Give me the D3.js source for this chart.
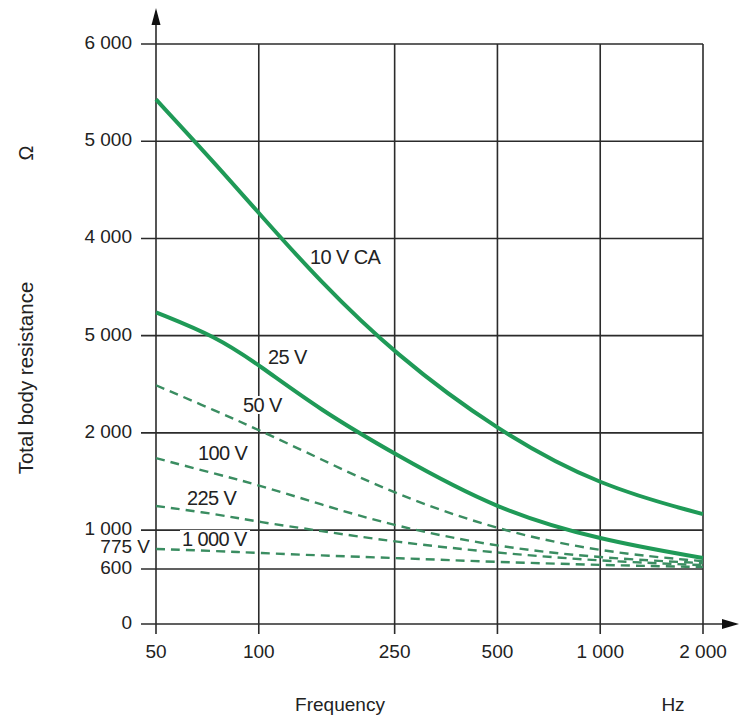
<!DOCTYPE html>
<html>
<head>
<meta charset="utf-8">
<script src="https://cdn.jsdelivr.net/npm/d3@7"></script>
<style>
  body { margin: 0; background: #fff; }
  text { font-family: "Liberation Sans", Arial, sans-serif; fill: #222; }
</style>
</head>
<body>
<svg id="chart" width="739" height="717"></svg>
<script>
// frequency axis (Hz, log)
var freqTicks = [50, 100, 250, 500, 1000, 2000]
var freqTickLabels = ["50", "100", "250", "500", "1 000", "2 000"]

// resistance axis (ohm) - labels as printed on the original
var resTicks = [0, 600, 1000, 2000, 3000, 4000, 5000, 6000]
var resTickLabels = ["0", "600", "1 000", "2 000", "5 000", "4 000", "5 000", "6 000"]

// curve samples
var freqs = [50, 75, 100, 150, 250, 500, 1000, 2000]
var v10 = [5430, 4760, 4260, 3570, 2810, 2020, 1450, 1165]
var v25 = [3240, 2990, 2700, 2245, 1780, 1205, 898, 713]
var v50 = [2490, 2225, 2030, 1740, 1370, 1000, 775, 680]
var v100 = [1740, 1577, 1464, 1270, 1040, 826, 713, 660]
var v225 = [1248, 1166, 1083, 995, 878, 765, 682, 640]
var v775 = [806, 785, 765, 740, 713, 672, 641, 620]

var seriesNames = ["10 V CA", "25 V", "50 V", "100 V", "225 V", "775 V"]
var seriesValues = [v10, v25, v50, v100, v225, v775]
var seriesDashed = [false, false, true, true, true, true]

var svg = d3.select("#chart")

var x = d3.scaleLog().domain([50, 2000]).range([156, 703])
// axis is broken below 600
var y = d3.scaleLinear().domain([0, 600, 6000]).range([624, 569, 44])

var gridColor = "#2b2b2b"

// horizontal grid
svg.selectAll(".hgrid")
   .data(resTicks.filter(function(d) { return d > 0 }))
   .enter().append("line")
   .attr("x1", 141).attr("x2", x(2000))
   .attr("y1", function(d) { return y(d) })
   .attr("y2", function(d) { return y(d) })
   .attr("stroke", gridColor).attr("stroke-width", 1.6)

// vertical grid (with tick below axis)
svg.selectAll(".vgrid")
   .data(freqTicks.slice(1))
   .enter().append("line")
   .attr("x1", function(d) { return x(d) })
   .attr("x2", function(d) { return x(d) })
   .attr("y1", y(6000)).attr("y2", y(0) + 10)
   .attr("stroke", gridColor).attr("stroke-width", 1.6)

// axes with arrows
svg.append("line")
   .attr("x1", x(50)).attr("x2", x(50))
   .attr("y1", y(0) + 10).attr("y2", 20)
   .attr("stroke", gridColor).attr("stroke-width", 1.6)
svg.append("path")
   .attr("d", "M" + x(50) + ",8 L" + (x(50) - 4.5) + ",25 L" + (x(50) + 4.5) + ",25 Z")
   .attr("fill", "#111")
svg.append("line")
   .attr("x1", 141).attr("x2", 728)
   .attr("y1", y(0)).attr("y2", y(0))
   .attr("stroke", gridColor).attr("stroke-width", 1.6)
svg.append("path")
   .attr("d", "M739," + y(0) + " L722," + (y(0) - 5) + " L722," + (y(0) + 5) + " Z")
   .attr("fill", "#111")

// tick labels
svg.selectAll(".ylab")
   .data(resTicks)
   .enter().append("text")
   .attr("x", 132)
   .attr("y", function(d) { return y(d) + 5 })
   .attr("text-anchor", "end")
   .attr("font-size", 19)
   .text(function(d, i) { return resTickLabels[i] })

svg.selectAll(".xlab")
   .data(freqTicks)
   .enter().append("text")
   .attr("x", function(d) { return x(d) })
   .attr("y", 658)
   .attr("text-anchor", "middle")
   .attr("font-size", 19)
   .text(function(d, i) { return freqTickLabels[i] })

// curve labels (white patch behind, like the print)
var labels = [
  {t: "10 V CA", x: 310, y: 264},
  {t: "25 V", x: 268, y: 364},
  {t: "50 V", x: 243, y: 412},
  {t: "100 V", x: 198, y: 460},
  {t: "225 V", x: 187, y: 505},
  {t: "1 000 V", x: 182, y: 546}
]
var lab = svg.selectAll(".clab").data(labels).enter().append("g")
lab.append("text")
   .attr("x", function(d) { return d.x })
   .attr("y", function(d) { return d.y })
   .attr("font-size", 20)
   .attr("letter-spacing", -0.6)
   .text(function(d) { return d.t })
lab.each(function() {
  var t = d3.select(this).select("text")
  var b = t.node().getBBox()
  d3.select(this).insert("rect", "text")
    .attr("x", b.x - 2).attr("y", b.y + 2)
    .attr("width", b.width + 4).attr("height", b.height - 4)
    .attr("fill", "#fff")
})
svg.append("text")
   .attr("x", 150).attr("y", 553)
   .attr("text-anchor", "end")
   .attr("font-size", 19)
   .text("775 V")

// curves
var line = d3.line()
  .x(function(d) { return x(d[0]) })
  .y(function(d) { return y(d[1]) })
  .curve(d3.curveBasis)

seriesValues.forEach(function(vals, i) {
  var pts = freqs.map(function(f, j) { return [f, vals[j]] })
  svg.append("path")
     .datum(pts)
     .attr("d", line)
     .attr("fill", "none")
     .attr("stroke", seriesDashed[i] ? "#3a8d61" : "#1f9a57")
     .attr("stroke-width", seriesDashed[i] ? 2.4 : 4)
     .attr("stroke-dasharray", seriesDashed[i] ? "9,6" : null)
     .attr("class", "curve-" + i)
})

// axis titles
svg.append("text")
   .attr("x", 340).attr("y", 711)
   .attr("text-anchor", "middle")
   .attr("font-size", 19)
   .text("Frequency")
svg.append("text")
   .attr("x", 673).attr("y", 711)
   .attr("text-anchor", "middle")
   .attr("font-size", 19)
   .text("Hz")
svg.append("text")
   .attr("transform", "translate(33,378) rotate(-90)")
   .attr("text-anchor", "middle")
   .attr("font-size", 20.5)
   .text("Total body resistance")
svg.append("text")
   .attr("transform", "translate(33,153) rotate(-90)")
   .attr("text-anchor", "middle")
   .attr("font-size", 20)
   .text("Ω")
</script>
</body>
</html>
